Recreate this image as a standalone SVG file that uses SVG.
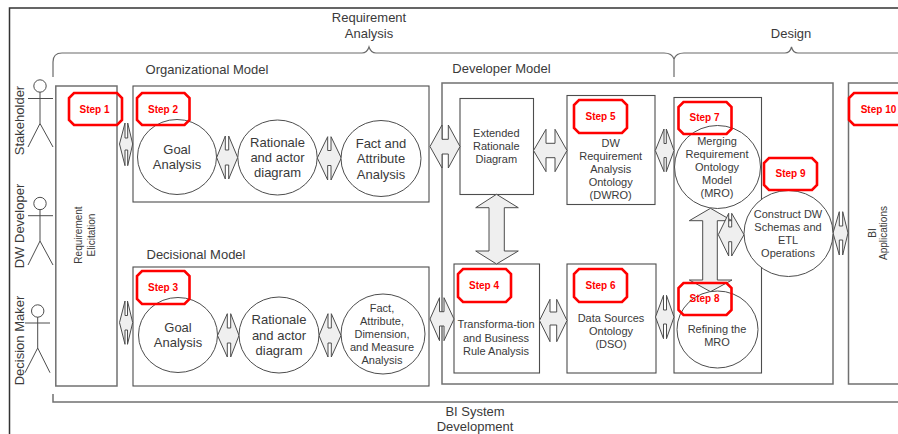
<svg xmlns="http://www.w3.org/2000/svg" width="898" height="434" viewBox="0 0 898 434">
<style>
text{font-family:"Liberation Sans",Arial,sans-serif;fill:#3a3a3a;text-anchor:middle}
.l{font-size:13px}
.m{font-size:11px}
.s{font-size:10px}
.box{fill:none;stroke:#4d4d4d;stroke-width:1.1}
.wbox{fill:#fff;stroke:#4d4d4d;stroke-width:1.1}
.gbox{fill:none;stroke:#707070;stroke-width:1.5}
.c{fill:#fff;stroke:#4d4d4d;stroke-width:1}
.a{fill:#efefef;stroke:#4d4d4d;stroke-width:1;stroke-linejoin:miter}
.b{fill:none;stroke:#6a6a6a;stroke-width:1.2}
.p{fill:none;stroke:#4d4d4d;stroke-width:1}
.st{fill:none;stroke:#f00;stroke-width:2.6}
.stt{font-size:10px;font-weight:bold;fill:#f00}
</style>
<rect width="898" height="434" fill="#fff"/>
<path d="M9.5 434V8H898" fill="none" stroke="#333" stroke-width="1.5"/>
<g id="brackets">
<path class="b" d="M53 77V62Q53 53 62 53H362Q367 53 369 47Q371 53 376 53H664Q672 53 674 59V77"/>
<path class="b" d="M674 59Q676 53 684 53H785Q790 53 791.5 47Q793 53 798 53H898"/>
<path class="gbox" d="M53 394V402H898"/>
<text class="l" x="369" y="22">Requirement</text>
<text class="l" x="369" y="38">Analysis</text>
<text class="l" x="791" y="38">Design</text>
<text class="l" x="475" y="416">BI System</text>
<text class="l" x="475" y="431">Development</text>
</g>
<g id="actor-stakeholder">
<circle class="p" cx="40" cy="86" r="6.2"/>
<path class="p" d="M40 92V123.5M28 98.5H53M28 147L40 123.5L53 147"/>
<text class="l" transform="translate(24 120.500) rotate(-90)">Stakeholder</text>
</g>
<g id="actor-dw-developer">
<circle class="p" cx="40" cy="203.500" r="6.200"/>
<path class="p" d="M40 209.500V241M28 215.700H53M28 265L40 241L53 265"/>
<text class="l" transform="translate(24 226) rotate(-90)">DW Developer</text>
</g>
<g id="actor-decision-maker">
<circle class="p" cx="37.700" cy="311" r="6.200"/>
<path class="p" d="M37.700 317V348M25 323H50M25 372.700L37.700 348L50 372.700"/>
<text class="l" transform="translate(24 340.500) rotate(-90)">Decision Maker</text>
</g>
<g id="requirement-elicitation">
<rect class="gbox" x="55.800" y="86" width="61.200" height="300"/>
<text class="s" transform="translate(82 235) rotate(-90)">Requirement</text>
<text class="s" transform="translate(95 235) rotate(-90)">Elicitation</text>
</g>
<g id="organizational-model">
<rect class="box" x="133" y="86" width="296" height="116"/>
<text class="l" x="207" y="74">Organizational Model</text>
</g>
<g id="decisional-model">
<rect class="box" x="133" y="267" width="296" height="119"/>
<text class="l" x="196" y="259">Decisional Model</text>
</g>
<g id="developer-model">
<rect class="gbox" x="442" y="83" width="391" height="301"/>
<text class="l" x="501.500" y="73">Developer Model</text>
</g>
<g id="bi-applications">
<path class="gbox" d="M905 83H848.500V384H905"/>
<text class="s" transform="translate(876 233) rotate(-90)">BI</text>
<text class="s" transform="translate(887 233) rotate(-90)">Applications</text>
</g>
<g id="extended-rationale">
<rect class="wbox" x="460" y="98.500" width="73.500" height="96"/>
<text class="m" x="496.300" y="137">Extended</text>
<text class="m" x="496.300" y="150">Rationale</text>
<text class="m" x="496.300" y="163">Diagram</text>
</g>
<g id="dwro">
<rect class="wbox" x="567" y="95.500" width="88" height="109"/>
<text class="m" x="610.700" y="147">DW</text>
<text class="m" x="610.700" y="160">Requirement</text>
<text class="m" x="610.700" y="173">Analysis</text>
<text class="m" x="610.700" y="186">Ontology</text>
<text class="m" x="610.700" y="199">(DWRO)</text>
</g>
<g id="transformation">
<rect class="wbox" x="454" y="264" width="85.500" height="109"/>
<text class="m" x="496" y="328">Transforma-tion</text>
<text class="m" x="496" y="341.500">and Business</text>
<text class="m" x="496" y="354.500">Rule Analysis</text>
</g>
<g id="dso">
<rect class="wbox" x="567" y="264" width="89" height="109"/>
<text class="m" x="611" y="322">Data Sources</text>
<text class="m" x="611" y="335">Ontology</text>
<text class="m" x="611" y="348">(DSO)</text>
</g>
<rect id="mro-container" class="box" x="674" y="97.500" width="87.500" height="275.500"/>
<g id="connectors">
<polygon class="a" points="119.500,144 125,123 125,138 127.700,138 127.700,123 132.700,144 127.700,165.700 127.700,150 125,150 125,165.700"/>
<polygon class="a" points="216.700,157.500 225.300,136 225.300,150 228.700,150 228.700,136 237.700,157.500 228.700,179 228.700,165 225.300,165 225.300,179"/>
<polygon class="a" points="317.300,158 327.700,136.700 327.700,150.500 331,150.500 331,136.700 341.300,158 331,180 331,165.500 327.700,165.500 327.700,180"/>
<polygon class="a" points="430,146.500 442,125 442,139.300 448.300,139.300 448.300,125 460,146.500 448.300,168 448.300,154 442,154 442,168"/>
<polygon class="a" points="430,319 439.500,297.700 439.500,311.700 444,311.700 444,297.700 454,319 444,340.700 444,326 439.500,326 439.500,340.700"/>
<polygon class="a" points="533.500,150.500 546,129.300 546,143.300 555,143.300 555,129.300 567,150.500 555,171.700 555,157.700 546,157.700 546,171.700"/>
<polygon class="a" points="539.500,320.500 550,299.300 550,312 556.700,312 556.700,299.300 567,320.500 556.700,341.700 556.700,325 550,325 550,341.700"/>
<polygon class="a" points="655.300,150.500 664,129 664,143.500 666.300,143.500 666.300,129 674,150.500 666.300,171.700 666.300,157.500 664,157.500 664,171.700"/>
<polygon class="a" points="655.500,317 663.500,295.300 663.500,310 666.500,310 666.500,295.300 674,317 666.500,338.700 666.500,324 663.500,324 663.500,338.700"/>
<polygon class="a" points="119.500,322.600 125,301 125,315.500 127.500,315.500 127.500,301 132.700,322.600 127.500,344.300 127.500,330 125,330 125,344.300"/>
<polygon class="a" points="217.500,335.500 227.300,313.700 227.300,328 230.700,328 230.700,313.700 239,335.500 230.700,357 230.700,343 227.300,343 227.300,357"/>
<polygon class="a" points="319,335.500 328,313.700 328,328 331.300,328 331.300,313.700 341,335.500 331.300,357 331.300,343 328,343 328,357"/>
<polygon class="a" points="496.500,194.300 518.300,207.700 504.300,207.700 504.300,251 518.300,251 496.500,264 475.700,251 489,251 489,207.700 475.700,207.700"/>
<polygon class="a" points="710.500,208.300 732,220.700 717.300,220.700 717.300,280 732,280 710.500,291.700 689.300,280 702.700,280 702.700,220.700 689.300,220.700"/>
<polygon class="a" points="718.300,234.700 728.700,213.300 728.700,227 731.700,227 731.700,213.300 744,234.700 731.700,256 731.700,241.700 728.700,241.700 728.700,256"/>
<polygon class="a" points="833,233 839.300,211.700 839.300,226 842.700,226 842.700,211.700 848,233 842.700,255 842.700,240 839.300,240 839.300,255"/>
</g>
<g id="goal-1">
<ellipse class="c" cx="177" cy="157" rx="39.500" ry="37.500"/>
<text class="l" x="177" y="154">Goal</text>
<text class="l" x="177" y="169">Analysis</text>
</g>
<g id="rationale-1">
<ellipse class="c" cx="277.500" cy="157.500" rx="39.700" ry="37.500"/>
<text class="l" x="277.500" y="147">Rationale</text>
<text class="l" x="277.500" y="162">and actor</text>
<text class="l" x="277.500" y="177">diagram</text>
</g>
<g id="fact-1">
<ellipse class="c" cx="381" cy="158.500" rx="40" ry="38"/>
<text class="l" x="381" y="147.500">Fact and</text>
<text class="l" x="381" y="163">Attribute</text>
<text class="l" x="381" y="178.500">Analysis</text>
</g>
<g id="goal-2">
<ellipse class="c" cx="178" cy="335" rx="39.500" ry="37.500"/>
<text class="l" x="178" y="331.500">Goal</text>
<text class="l" x="178" y="346.500">Analysis</text>
</g>
<g id="rationale-2">
<ellipse class="c" cx="279" cy="335" rx="40" ry="38"/>
<text class="l" x="279" y="324">Rationale</text>
<text class="l" x="279" y="339.500">and actor</text>
<text class="l" x="279" y="355">diagram</text>
</g>
<g id="fact-2">
<ellipse class="c" cx="383" cy="334" rx="42" ry="40"/>
<text class="m" x="382" y="311.700">Fact,</text>
<text class="m" x="382" y="324.700">Attribute,</text>
<text class="m" x="382" y="338">Dimension,</text>
<text class="m" x="382" y="351">and Measure</text>
<text class="m" x="382" y="364">Analysis</text>
</g>
<g id="mro">
<ellipse class="c" cx="717.500" cy="167" rx="43" ry="41.500"/>
<text class="m" x="717" y="145">Merging</text>
<text class="m" x="717" y="158">Requirement</text>
<text class="m" x="717" y="171">Ontology</text>
<text class="m" x="717" y="184">Model</text>
<text class="m" x="717" y="197">(MRO)</text>
</g>
<g id="refining">
<ellipse class="c" cx="717.500" cy="329.500" rx="40.500" ry="38.500"/>
<text class="m" x="717" y="333">Refining the</text>
<text class="m" x="717" y="346">MRO</text>
</g>
<g id="construct">
<ellipse class="c" cx="788.500" cy="233.500" rx="44.500" ry="43"/>
<text class="m" x="788" y="217.500">Construct DW</text>
<text class="m" x="788" y="230.500">Schemas and</text>
<text class="m" x="788" y="243.500">ETL</text>
<text class="m" x="788" y="256.500">Operations</text>
</g>
<g id="step-1"><path class="st" d="M74 93H117L122 98V120L117 125H74L69 120V98Z"/><text class="stt" x="94.500" y="112.500">Step 1</text></g>
<g id="step-2"><path class="st" d="M142 93H184.500L189.500 98V120L184.500 125H142L137 120V98Z"/><text class="stt" x="163" y="112.500">Step 2</text></g>
<g id="step-3"><path class="st" d="M142 271H184.500L189.500 276V299L184.500 304H142L137 299V276Z"/><text class="stt" x="163" y="291">Step 3</text></g>
<g id="step-4"><path class="st" d="M463 269H506L511 274V297L506 302H463L458 297V274Z"/><text class="stt" x="484" y="289">Step 4</text></g>
<g id="step-5"><path class="st" d="M579 100H622L627 105V128L622 133H579L574 128V105Z"/><text class="stt" x="600.500" y="120">Step 5</text></g>
<g id="step-6"><path class="st" d="M579 269H622L627 274V297L622 302H579L574 297V274Z"/><text class="stt" x="600.500" y="289">Step 6</text></g>
<g id="step-7"><path class="st" d="M683.500 102H726.500L731.500 107V129L726.500 134H683.500L678.500 129V107Z"/><text class="stt" x="704.500" y="121">Step 7</text></g>
<g id="step-8"><path class="st" d="M683.500 283H726.500L731.500 288V310L726.500 315H683.500L678.500 310V288Z"/><text class="stt" x="704.500" y="302">Step 8</text></g>
<g id="step-9"><path class="st" d="M769 158H812L817 163V185L812 190H769L764 185V163Z"/><text class="stt" x="790.500" y="177">Step 9</text></g>
<g id="step-10"><path class="st" d="M854 93H905V125H854L849 120V98Z"/><text class="stt" x="878.500" y="112.500">Step 10</text></g>
</svg>
